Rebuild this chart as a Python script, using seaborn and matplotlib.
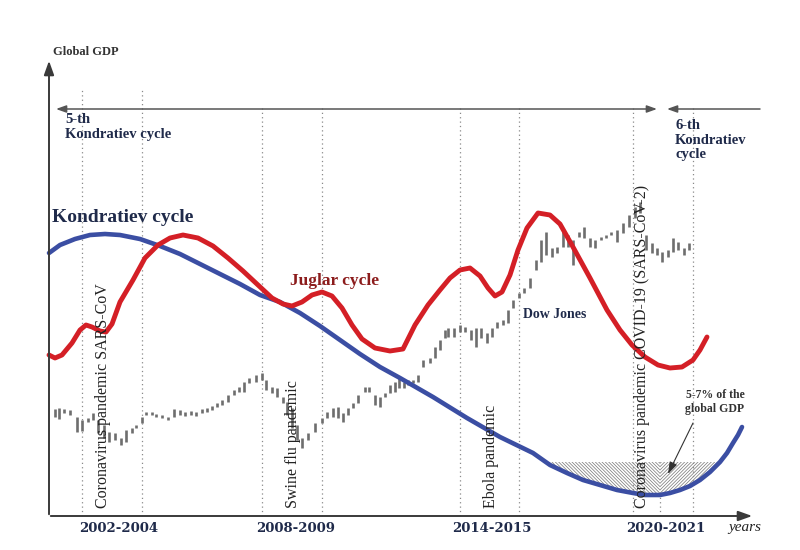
import numpy as np
import pandas as pd
import matplotlib
matplotlib.use("Agg")
import matplotlib.pyplot as plt
import seaborn as sns

# ---------------- data (x: time position, y: level) ----------------
kond_x = [49, 60, 75, 90, 105, 120, 140, 160, 180, 200, 220, 240, 260, 280, 300,
          320, 340, 360, 380, 400, 433, 467, 500, 533, 550, 567, 583, 600, 617,
          633, 645, 660, 670, 680, 690, 700, 710, 720, 727, 733, 738, 742]
kond_y = [297, 305, 311, 315, 316, 315, 311, 304, 296, 286, 276, 266, 255, 248, 237,
          224, 210, 196, 183, 172, 153, 132, 113, 97, 85, 77, 70, 65, 60,
          57, 55, 55, 57, 60, 64, 70, 78, 88, 97, 107, 115, 123]

jug_x = [49, 55, 62, 72, 80, 86, 92, 100, 106, 112, 120, 133, 145, 158, 170, 183,
         198, 213, 228, 243, 258, 272, 283, 292, 302, 312, 322, 332, 342, 352,
         362, 375, 390, 403, 415, 428, 440, 450, 460, 470, 480, 488, 495, 502,
         510, 518, 527, 538, 550, 560, 573, 590, 607, 620, 632, 645, 658, 670,
         682, 693, 700, 707]
jug_y = [195, 192, 195, 207, 220, 225, 223, 219, 218, 226, 248, 270, 292, 305, 312, 315,
         312, 304, 292, 279, 265, 252, 246, 244, 248, 255, 258, 254, 242, 225,
         211, 202, 199, 201, 225, 245, 260, 272, 280, 282, 274, 262, 254, 258,
         275, 300, 322, 337, 335, 326, 303, 272, 240, 220, 205, 193, 185, 182,
         183, 190, 200, 213]

dj_x = [55, 59, 64, 70, 77, 82, 88, 93, 98, 104, 109, 115, 121, 126, 132, 136, 142,
        146, 152, 156, 162, 168, 174, 180, 185, 191, 196, 202, 207, 212, 217, 222,
        228, 234, 239, 244, 249, 256, 262, 266, 272, 277, 283, 287, 292, 297, 302,
        308, 315, 322, 327, 333, 338, 343, 348, 353, 358, 365, 369, 375, 380, 385,
        390, 395, 399, 404, 408, 413, 418, 423, 430, 435, 440, 445, 448, 454, 460,
        465, 471, 476, 481, 487, 492, 497, 503, 508, 513, 519, 524, 530, 536, 541,
        546, 552, 557, 563, 568, 573, 579, 584, 590, 595, 601, 606, 611, 617, 623,
        629, 635, 640, 646, 652, 657, 662, 668, 673, 678, 684, 689]
dj_top = [409, 408, 409, 410, 417, 420, 418, 413, 420, 425, 432, 433, 438, 430, 428, 425, 417,
          412, 412, 414, 415, 417, 409, 410, 412, 411, 412, 409, 408, 406, 403, 400,
          395, 390, 387, 382, 378, 375, 373, 380, 387, 388, 397, 402, 408, 425, 438,
          433, 423, 418, 412, 408, 407, 413, 408, 403, 395, 387, 387, 395, 397, 393,
          385, 382, 378, 382, 380, 380, 375, 360, 358, 347, 340, 330, 328, 328, 325,
          327, 330, 328, 328, 333, 328, 322, 320, 310, 300, 293, 288, 278, 260, 240,
          232, 248, 247, 228, 235, 240, 232, 227, 238, 240, 237, 235, 232, 230, 223,
          215, 207, 202, 235, 243, 248, 252, 250, 238, 242, 248, 243]
dj_bot = [417, 419, 413, 415, 432, 431, 422, 420, 433, 438, 442, 440, 445, 442, 433, 428, 423,
          415, 415, 417, 418, 420, 417, 415, 416, 415, 416, 413, 412, 410, 407, 405,
          402, 395, 392, 392, 383, 382, 380, 390, 393, 397, 403, 415, 428, 440, 448,
          440, 432, 423, 418, 417, 418, 422, 415, 408, 403, 392, 392, 405, 407, 397,
          393, 392, 388, 388, 385, 383, 382, 367, 363, 358, 350, 338, 337, 337, 332,
          332, 340, 347, 338, 343, 337, 328, 325, 323, 308, 298, 293, 288, 270, 262,
          255, 257, 253, 247, 247, 265, 237, 238, 247, 248, 240, 238, 235, 242, 233,
          227, 218, 213, 250, 253, 255, 262, 257, 252, 250, 255, 250]

dotted_long = [82, 142]
dotted_mid = [262, 322, 460, 519, 633, 693]
dotted_short = [660]

period_labels = ["2002-2004", "2008-2009", "2014-2015", "2020-2021"]
period_pos = [119, 296, 492, 666]

event_labels = ["Coronavirus pandemic SARS-CoV", "Swine flu pandemic",
                "Ebola pandemic", "Coronavirus pandemic COVID-19 (SARS-CoV-2)"]
event_pos = [103, 293, 491, 642]

crisis_level = 88   # 5-7% of global GDP band top

# ---------------- drawing ----------------
sns.set_theme(style="white")
plt.rcParams['font.family'] = ['Liberation Serif', 'DejaVu Serif']
plt.rcParams['hatch.linewidth'] = 0.55

fig = plt.figure(figsize=(8, 5.5), dpi=100)
ax = fig.add_axes([0, 0, 1, 1])

PY = lambda p: 550 - p  # helper for layout positions (pixels from top)

navy = '#1f2a4a'
axis_c = '#3a3a3a'

# dotted guide lines
ax.vlines(dotted_long, PY(516), PY(90), colors='#8a8a8a', linestyles=(0, (1, 2.5)), lw=0.9)
ax.vlines(dotted_mid, PY(516), PY(108), colors='#8a8a8a', linestyles=(0, (1, 2.5)), lw=0.9)
ax.vlines(dotted_short, PY(516), PY(494), colors='#8a8a8a', linestyles=(0, (1, 2.5)), lw=0.9)

# hatched crisis region
kx = np.array(kond_x); ky = np.array(kond_y)
ax.fill_between(kx, ky, crisis_level, where=(kx <= 660) & (ky <= crisis_level),
                interpolate=True, facecolor='white', edgecolor='#808080', hatch='\\' * 10, lw=0)
ax.fill_between(kx, ky, crisis_level, where=(kx >= 660) & (ky <= crisis_level),
                interpolate=True, facecolor='white', edgecolor='#808080', hatch='/' * 10, lw=0)

# Dow Jones bars
ax.vlines(dj_x, [550 - b for b in dj_bot], [550 - t for t in dj_top],
          colors='#6e6e6e', lw=1.9)

# cycles
df_k = pd.DataFrame({'t': kond_x, 'v': kond_y})
df_j = pd.DataFrame({'t': jug_x, 'v': jug_y})
sns.lineplot(data=df_k, x='t', y='v', ax=ax, color='#3b4ea3', lw=3.3, sort=False,
             solid_joinstyle='round', solid_capstyle='round')
sns.lineplot(data=df_j, x='t', y='v', ax=ax, color='#d41f26', lw=3.5, sort=False,
             solid_joinstyle='round', solid_capstyle='round')
ax.axis('off')
ax.set_xlim(0, 800)
ax.set_ylim(0, 550)

# axes arrows
ax.annotate('', xy=(49, PY(58)), xytext=(49, PY(517)),
            arrowprops=dict(arrowstyle='-|>,head_length=0.7,head_width=0.25', color=axis_c, lw=1.4))
ax.annotate('', xy=(755, PY(516)), xytext=(48, PY(516)),
            arrowprops=dict(arrowstyle='-|>,head_length=0.7,head_width=0.25', color=axis_c, lw=1.4))

# top period arrows
ax.annotate('', xy=(56, PY(109)), xytext=(657, PY(109)),
            arrowprops=dict(arrowstyle='<|-|>,head_length=0.5,head_width=0.18', color='#555555', lw=1.1,
                            shrinkA=0, shrinkB=0))
ax.annotate('', xy=(667, PY(109)), xytext=(760, PY(109)),
            arrowprops=dict(arrowstyle='-|>,head_length=0.5,head_width=0.18', color='#555555', lw=1.1,
                            shrinkA=0, shrinkB=0))

# texts
ax.text(53, PY(52), "Global GDP", fontsize=9, fontweight='bold', color='#333333', va='center', ha='left')
ax.text(65, PY(127), "5-th\nKondratiev cycle", fontsize=10.5, fontweight='bold', color=navy,
        va='center', ha='left', linespacing=1.15)
ax.text(675, PY(140), "6-th\nKondratiev\ncycle", fontsize=10.5, fontweight='bold', color=navy,
        va='center', ha='left', linespacing=1.15)
ax.text(52, PY(218), "Kondratiev cycle", fontsize=14, fontweight='bold', color=navy,
        va='center', ha='left')
ax.text(290, PY(281), "Juglar cycle", fontsize=12.5, fontweight='bold', color='#8c1c1c',
        va='center', ha='left')
ax.text(523, PY(314), "Dow Jones", fontsize=10, fontweight='bold', color=navy,
        va='center', ha='left')
ax.text(715, PY(402), "5-7% of the\nglobal GDP", fontsize=8.5, fontweight='bold', color='#333333',
        va='center', ha='center', linespacing=1.2)
ax.annotate('', xy=(668, PY(474)), xytext=(693, PY(423)),
            arrowprops=dict(arrowstyle='-|>,head_length=0.6,head_width=0.2', color='#333333', lw=0.8,
                            shrinkA=0, shrinkB=0))

for lab, xp in zip(event_labels, event_pos):
    ax.text(xp, PY(508), lab, rotation=90, fontsize=11.5, color='#222222',
            ha='center', va='bottom')

for lab, xp in zip(period_labels, period_pos):
    ax.text(xp, PY(529), lab, fontsize=9.5, fontweight='bold', color=navy,
            ha='center', va='center', family=['DejaVu Serif'])
ax.text(745, PY(527), "years", fontsize=11, style='italic', color='#222222',
        ha='center', va='center')

fig.savefig('out.png', dpi=100, facecolor='white')
